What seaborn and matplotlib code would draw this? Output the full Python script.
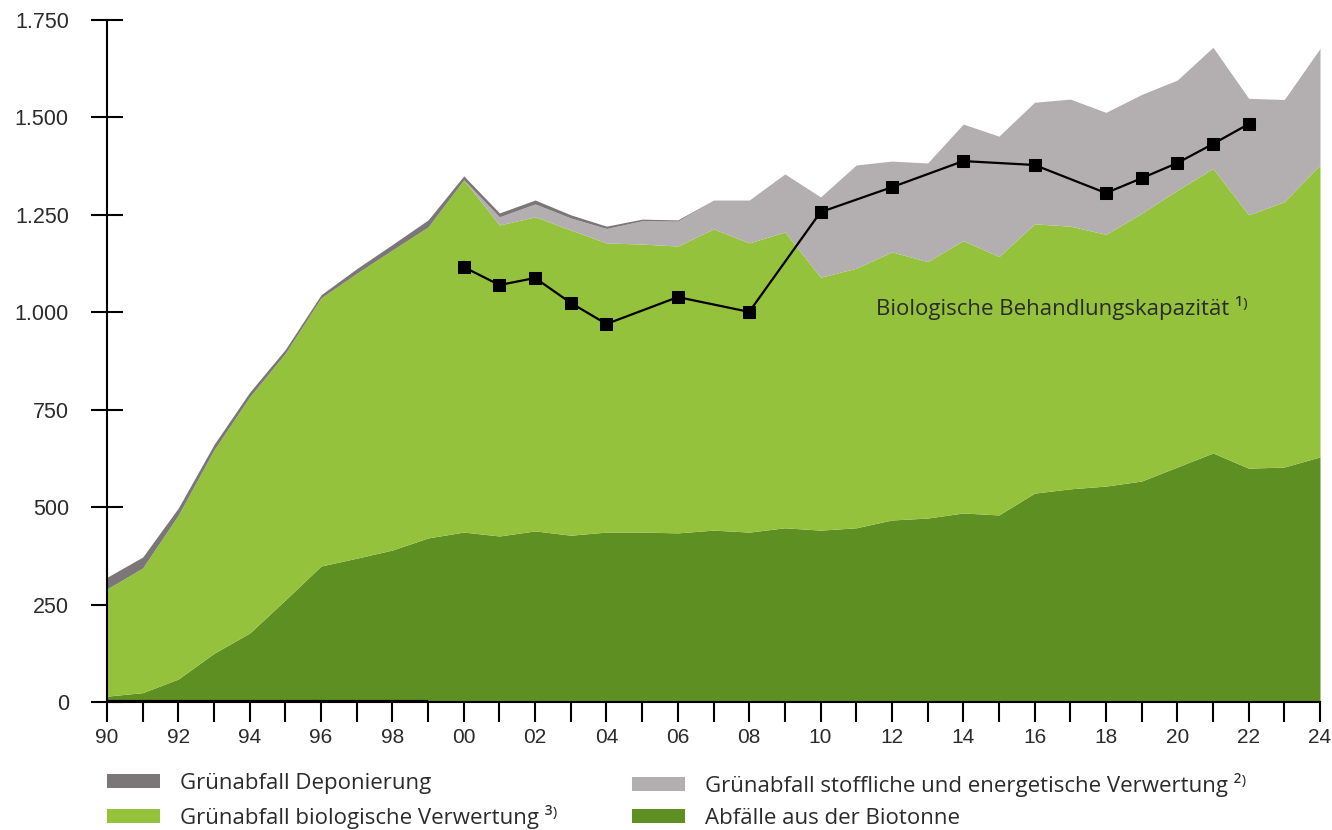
import numpy as np
import pandas as pd
import matplotlib
matplotlib.use("Agg")
import matplotlib.pyplot as plt
from matplotlib.patches import Patch
from matplotlib.ticker import FuncFormatter, MultipleLocator
import seaborn as sns

years = list(range(1990, 2025))
biotonne = [15, 24, 59, 125, 177, 262, 349, 369, 390, 421, 436, 426, 439, 428, 436, 436, 434,
            441, 436, 447, 441, 447, 467, 472, 485, 480, 536, 547, 554, 567, 603, 639, 600, 603, 629]
gruen_bio = [275, 320, 421, 522, 606, 633, 688, 731, 770, 798, 904, 798, 806, 783, 742, 739, 736,
             773, 742, 759, 649, 666, 688, 658, 699, 663, 691, 674, 646, 687, 710, 730, 650, 681, 749]
gruen_stoff = [0, 0, 0, 0, 0, 0, 0, 0, 0, 0, 0, 21, 33, 31, 37, 60, 64,
               74, 110, 149, 206, 265, 233, 253, 299, 309, 312, 326, 313, 305, 283, 311, 299, 262, 299]
gruen_depo = [30, 28, 18, 14, 12, 10, 8, 12, 14, 18, 10, 10, 10, 8, 6, 4, 3,
              0, 0, 0, 0, 0, 0, 0, 0, 0, 0, 0, 0, 0, 0, 0, 0, 0, 0]

cap_years = [2000, 2001, 2002, 2003, 2004, 2006, 2008, 2010, 2012, 2014, 2016, 2018, 2019, 2020, 2021, 2022]
cap_values = [1116, 1070, 1088, 1024, 970, 1039, 1001, 1257, 1321, 1388, 1378, 1306, 1344, 1383, 1432, 1483]

labels = ["Grünabfall Deponierung",
          "Grünabfall biologische Verwertung ³⁾",
          "Grünabfall stoffliche und energetische Verwertung ²⁾",
          "Abfälle aus der Biotonne"]
annot_text = "Biologische Behandlungskapazität ¹⁾"

c_biotonne = "#5e8f22"
c_bio = "#95c23d"
c_stoff = "#b3afb1"
c_depo = "#7b7677"
txt = "#2b2b2b"

sns.set_theme(style="white")
plt.rcParams["font.family"] = ["Liberation Sans", "DejaVu Sans"]

fig = plt.figure(figsize=(13.32, 8.30), dpi=100)
ax = fig.add_axes([107 / 1332, 1 - 702 / 830, (1320 - 107) / 1332, (702 - 20) / 830])

ax.stackplot(years, biotonne, gruen_bio, gruen_stoff, gruen_depo,
             colors=[c_biotonne, c_bio, c_stoff, c_depo], linewidth=0)

cap = pd.DataFrame({"Jahr": cap_years, "Kapazität": cap_values})
sns.lineplot(data=cap, x="Jahr", y="Kapazität", ax=ax, color="black", linewidth=1.6,
             marker="s", markersize=8.5, markeredgecolor="black", markerfacecolor="black")

ax.hlines(0, years[0], 1999, color="black", linewidth=3, zorder=5)

ax.set_xlim(1990, 2024)
ax.set_ylim(0, 1750)
ax.set_xlabel("")
ax.set_ylabel("")

for s in ["top", "right"]:
    ax.spines[s].set_visible(False)
for s in ["left", "bottom"]:
    ax.spines[s].set_color("black")
    ax.spines[s].set_linewidth(1.5)

ax.yaxis.set_major_locator(MultipleLocator(250))
ax.yaxis.set_major_formatter(FuncFormatter(lambda v, p: f"{int(v):,}".replace(",", ".")))
ax.set_xticks(years)
ax.set_xticklabels([f"{y % 100:02d}" if (y % 2 == 0) else "" for y in years])
ax.tick_params(axis="y", direction="inout", length=23, width=1.5, color="black",
               labelsize=15.5, labelcolor=txt, pad=16, left=True)
ax.tick_params(axis="x", direction="out", length=14.5, width=1.5, color="black",
               labelsize=15, labelcolor=txt, pad=4, bottom=True)

ax.text(2011.55, 1011, annot_text, fontsize=16, color=txt, va="center", ha="left",
        family=["Open Sans", "DejaVu Sans"])

handles = [Patch(facecolor=c, edgecolor="none") for c in [c_depo, c_bio, c_stoff, c_biotonne]]
leg_kw = dict(frameon=False, handlelength=2.4, handleheight=0.58,
              handletextpad=0.9, labelspacing=0.48, borderaxespad=0, borderpad=0,
              labelcolor=txt, prop={"family": ["Open Sans", "DejaVu Sans"], "size": 16})
l1 = fig.legend(handles[:2], labels[:2], loc="center left",
                bbox_to_anchor=(107 / 1332, 1 - 801 / 830), **leg_kw)
l2 = fig.legend(handles[2:], labels[2:], loc="center left",
                bbox_to_anchor=(632 / 1332, 1 - 801 / 830), **leg_kw)

fig.savefig("out.png", dpi=100)
